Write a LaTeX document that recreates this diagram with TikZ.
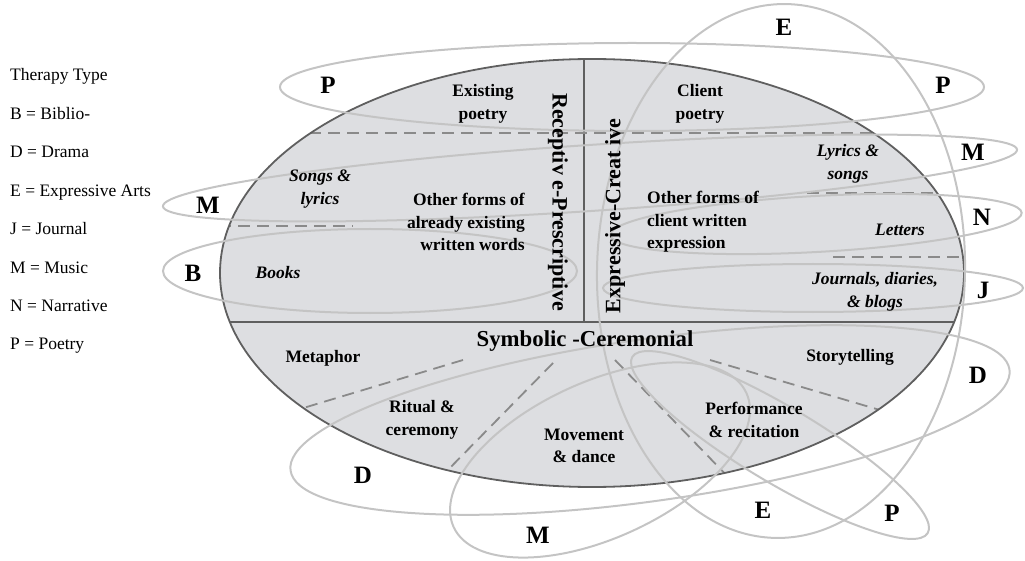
\documentclass[tikz,border=0pt]{standalone}
\usepackage{fontspec}
\setmainfont{Liberation Serif}
\usetikzlibrary{positioning}
\definecolor{regionfill}{RGB}{221,222,225}
\definecolor{rimgray}{RGB}{95,95,95}
\definecolor{splitgray}{RGB}{138,138,138}
\definecolor{typegray}{RGB}{196,196,196}

\begin{document}
\begin{tikzpicture}[
  x=1pt, y=-1pt,
  node distance=22pt,
  lbl/.style={font=\fontsize{17.5}{22.5}\selectfont\bfseries, align=center, inner sep=0pt},
  ilbl/.style={lbl, font=\fontsize{17.5}{22.5}\selectfont\bfseries\itshape},
  axislbl/.style={font=\fontsize{22}{26}\selectfont\bfseries, inner sep=0pt},
  tag/.style={font=\fontsize{25}{28}\selectfont\bfseries, inner sep=0pt},
  key/.style={font=\fontsize{17.5}{20}\selectfont, anchor=west, inner sep=0pt,
              text height=12pt, text depth=4pt},
  rim/.style={draw=rimgray, line width=1.8pt},
  split/.style={draw=rimgray, line width=1.8pt},
  part/.style={draw=splitgray, line width=1.8pt, dash pattern=on 12pt off 7pt},
  ring/.style={draw=typegray, line width=2pt}
]
\useasboundingbox (0,0) rectangle (1025,561);

\fill[regionfill] (592,273) ellipse [x radius=372pt, y radius=214pt];
\begin{scope}
  \clip (592,273) ellipse [x radius=372pt, y radius=214pt];
  \draw[split] (584,40) -- (584,322);
  \draw[split] (200,322) -- (980,322);
  \draw[part] (290,133) -- (980,133);
  \draw[part] (200,226) -- (353,226);
  \draw[part] (807,193) -- (980,193);
  \draw[part] (833,257) -- (980,257);
  \draw[part] (463,360) -- (290,412);
  \draw[part] (553,363) -- (440,478);
  \draw[part] (615,360) -- (733,482);
  \draw[part] (710,360) -- (890,413);
\end{scope}
\draw[rim] (592,273) ellipse [x radius=372pt, y radius=214pt];

\draw[ring] (632,87) ellipse [x radius=352pt, y radius=44pt];
\draw[ring, rotate around={-1.3:(781,271)}] (781,271) ellipse [x radius=184pt, y radius=267pt];
\draw[ring, rotate around={3.8:(590,178)}] (590,178) ellipse [x radius=428pt, y radius=33pt];
\draw[ring, rotate around={3.1:(816,224)}] (816,224) ellipse [x radius=206pt, y radius=28pt];
\draw[ring] (370,271) ellipse [x radius=207pt, y radius=42pt];
\draw[ring] (813,288) ellipse [x radius=210pt, y radius=24pt];
\draw[ring, rotate around={8:(650,420)}] (650,420) ellipse [x radius=363pt, y radius=81pt];
\draw[ring, rotate around={24.6:(600,460)}] (600,460) ellipse [x radius=161pt, y radius=78pt];
\draw[ring, rotate around={-30.8:(780,445)}] (780,445) ellipse [x radius=172pt, y radius=38pt];

\node[lbl] (existing) at (483,104) {Existing\\poetry};
\node[lbl] (client) at (700,104) {Client\\poetry};
\node[ilbl] (songs) at (320,189) {Songs \&\\lyrics};
\node[lbl, align=right, anchor=east] (otherold) at (525,222) {Other forms of\\already existing\\written words};
\node[ilbl] (books) at (278,273) {Books};
\node[ilbl] (lyrics) at (848,164) {Lyrics \&\\songs};
\node[lbl, align=left, anchor=west] (othernew) at (647,222) {Other forms of\\client written\\expression};
\node[ilbl] (letters) at (900,230) {Letters};
\node[ilbl] (journals) at (875,292) {Journals, diaries,\\\& blogs};
\node[axislbl, rotate=-90] (receptive) at (558,202) {Receptiv e-Prescriptive};
\node[axislbl, rotate=90] (expressive) at (615,216) {Expressive-Creat ive};
\node[axislbl, font=\fontsize{22.8}{26}\selectfont\bfseries] (symbolic) at (585,341) {Symbolic -Ceremonial};
\node[lbl] (metaphor) at (323,358) {Metaphor};
\node[lbl] (ritual) at (422,420) {Ritual \&\\ceremony};
\node[lbl] (movement) at (584,446) {Movement\\\& dance};
\node[lbl] (performance) at (754,420) {Performance\\\& recitation};
\node[lbl] (story) at (850,357) {Storytelling};

\node[tag] (ptopleft) at (328,85) {P};
\node[tag] (ptopright) at (943,85) {P};
\node[tag] (etop) at (784,27) {E};
\node[tag] (mright) at (973,152) {M};
\node[tag] (mleft) at (208,205) {M};
\node[tag] (nright) at (982,217) {N};
\node[tag] (bleft) at (193,273) {B};
\node[tag] (jright) at (983,290) {J};
\node[tag] (dright) at (978,375) {D};
\node[tag] (dleft) at (363,475) {D};
\node[tag] (mlow) at (538,535) {M};
\node[tag] (elow) at (763,510) {E};
\node[tag] (plow) at (892,513) {P};

\node[key] (legend) at (10,77) {Therapy Type};
\node[key, below=of legend.south west, anchor=north west] (kbib) {B = Biblio-};
\node[key, below=of kbib.south west, anchor=north west] (kdrama) {D = Drama};
\node[key, below=of kdrama.south west, anchor=north west] (kexpr) {E = Expressive Arts};
\node[key, below=of kexpr.south west, anchor=north west] (kjour) {J = Journal};
\node[key, below=of kjour.south west, anchor=north west] (kmusic) {M = Music};
\node[key, below=of kmusic.south west, anchor=north west] (knarr) {N = Narrative};
\node[key, below=of knarr.south west, anchor=north west] (kpoet) {P = Poetry};
\end{tikzpicture}
\end{document}
